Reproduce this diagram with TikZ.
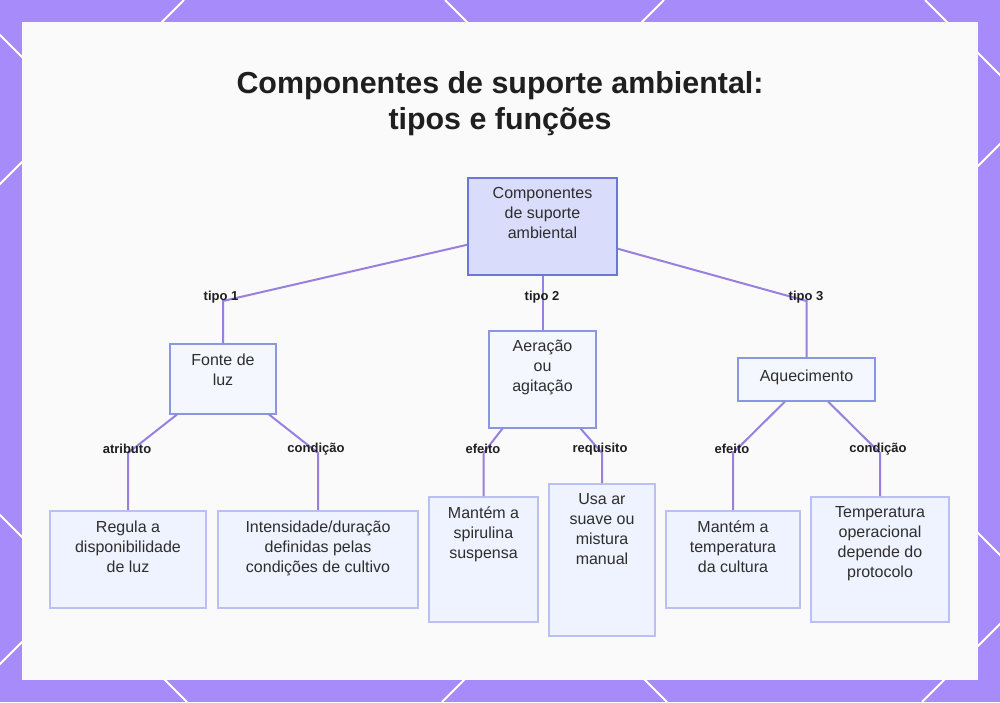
\documentclass[tikz,border=0pt]{standalone}
\usepackage{fontspec}
\setmainfont{Liberation Sans}
\usepackage{xcolor}
\usetikzlibrary{positioning}
\definecolor{bgpurple}{HTML}{A78BFA}
\definecolor{linkpurple}{RGB}{152,128,222}
\definecolor{rootfill}{RGB}{217,220,251}
\definecolor{rootdraw}{RGB}{108,118,214}
\definecolor{midfill}{RGB}{245,247,255}
\definecolor{middraw}{RGB}{138,150,226}
\definecolor{leaffill}{RGB}{239,242,255}
\definecolor{leafdraw}{RGB}{186,192,242}
\tikzset{
  cbox/.style={draw, rectangle, line width=0.75pt, inner sep=0pt, anchor=north},
  rootbox/.style={cbox, fill=rootfill, draw=rootdraw},
  midbox/.style={cbox, fill=midfill, draw=middraw},
  leafbox/.style={cbox, fill=leaffill, draw=leafdraw},
  txt/.style={anchor=north, inner sep=0pt, align=center, text=black!82, font=\fontsize{8}{10}\selectfont, execute at begin node=\strut},
  link/.style={draw=linkpurple, line width=1pt},
  elbl/.style={inner sep=0pt, text=black!88, font=\fontsize{6.5}{8}\selectfont\bfseries},
  ttl/.style={anchor=north, inner sep=0pt, align=center, text=black!88, font=\fontsize{15.2}{18}\selectfont\bfseries}
}

\begin{document}
\begin{tikzpicture}[x=0.5pt, y=-0.5pt]
\useasboundingbox (0,0) rectangle (1000,702);
% frame
\begin{scope}
\clip (0,0) rectangle (1000,702);
\fill[bgpurple] (0,0) rectangle (1000,702);
\foreach \c in {-515,-35,445,925} \draw[white, line width=1pt] (\c,0) -- (\c+702,702);
\foreach \d in {184,664,1144,1624} \draw[white, line width=1pt] (\d,0) -- (\d-702,702);
\fill[white!98!black] (22,22) rectangle (978,680);
\end{scope}
\node[ttl] (title) at (500,71) {Componentes de suporte ambiental:\\tipos e funções};

% boxes
\node[rootbox, minimum width=74.5pt, minimum height=48.5pt] (root) at (542.5,177) {};
\node[midbox, minimum width=53pt, minimum height=35pt] (fonte) at (223,343) {};
\node[midbox, minimum width=53.5pt, minimum height=48.5pt] (aer) at (542.5,330) {};
\node[midbox, minimum width=68.5pt, minimum height=21.5pt] (aq) at (806.5,357) {};
\node[leafbox, minimum width=78pt, minimum height=48.5pt] (reg) at (128,510) {};
\node[leafbox, minimum width=100pt, minimum height=48.5pt] (int) at (318,510) {};
\node[leafbox, minimum width=54.5pt, minimum height=62.5pt] (msp) at (483.5,496) {};
\node[leafbox, minimum width=53pt, minimum height=76pt] (usa) at (602,483) {};
\node[leafbox, minimum width=67pt, minimum height=48.5pt] (mte) at (733,510) {};
\node[leafbox, minimum width=69pt, minimum height=62.5pt] (tmp) at (880,496) {};

\node[txt] (root-t) at ([yshift=-5pt]root.north) {Componentes\\de suporte\\ambiental};
\node[txt] (fonte-t) at ([yshift=-5pt]fonte.north) {Fonte de\\luz};
\node[txt] (aer-t) at ([yshift=-5pt]aer.north) {Aeração\\ou\\agitação};
\node[txt] (aq-t) at ([yshift=-5pt]aq.north) {Aquecimento};
\node[txt] (reg-t) at ([yshift=-5pt]reg.north) {Regula a\\disponibilidade\\de luz};
\node[txt] (int-t) at ([yshift=-5pt]int.north) {Intensidade/duração\\definidas pelas\\condições de cultivo};
\node[txt] (msp-t) at ([yshift=-5pt]msp.north) {Mantém a\\spirulina\\suspensa};
\node[txt] (usa-t) at ([yshift=-5pt]usa.north) {Usa ar\\suave ou\\mistura\\manual};
\node[txt] (mte-t) at ([yshift=-5pt]mte.north) {Mantém a\\temperatura\\da cultura};
\node[txt] (tmp-t) at ([yshift=-5pt]tmp.north) {Temperatura\\operacional\\depende do\\protocolo};

% connectors
\coordinate (k1) at (223,301);
\coordinate (k3) at (806.5,301);
\coordinate (k11) at (128,453);
\coordinate (k12) at (318,453);
\coordinate (k21) at (483.5,453);
\coordinate (k22) at (602,453);
\coordinate (k31) at (733,453);
\coordinate (k32) at (880,453);
\draw[link] ([yshift=-9.25pt]root.west) -- (k1) -- (fonte.north);
\draw[link] (root) -- (aer);
\draw[link] ([yshift=-11.25pt]root.east) -- (k3) -- (aq.north);
\draw[link] ([xshift=-23pt]fonte.south) -- (k11) -- (reg.north);
\draw[link] ([xshift=23pt]fonte.south) -- (k12) -- (int.north);
\draw[link] ([xshift=-20pt]aer.south) -- (k21) -- (msp.north);
\draw[link] ([xshift=19pt]aer.south) -- (k22) -- (usa.north);
\draw[link] ([xshift=-10.75pt]aq.south) -- (k31) -- (mte.north);
\draw[link] ([xshift=10.75pt]aq.south) -- (k32) -- (tmp.north);

\node[elbl] (e1) at (221,297) {tipo 1};
\node[elbl] (e2) at (542,297) {tipo 2};
\node[elbl] (e3) at (806,297) {tipo 3};
\node[elbl] (e11) at (127,449) {atributo};
\node[elbl] (e12) at (316,449) {condição};
\node[elbl] (e21) at (483,449) {efeito};
\node[elbl] (e22) at (600,449) {requisito};
\node[elbl] (e31) at (732,449) {efeito};
\node[elbl] (e32) at (878,449) {condição};
\end{tikzpicture}
\end{document}
